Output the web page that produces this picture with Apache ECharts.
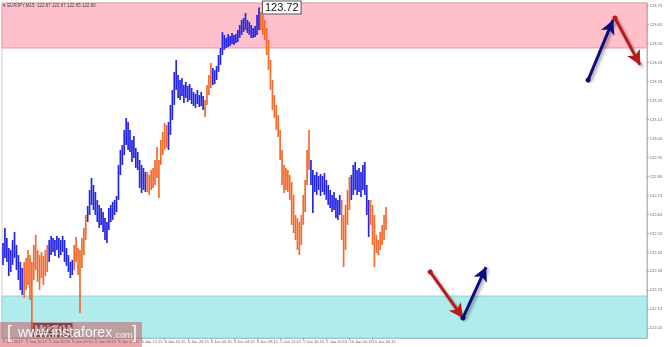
<!DOCTYPE html>
<html>
<head>
<meta charset="utf-8">
<script src="https://cdn.jsdelivr.net/npm/echarts@6/dist/echarts.min.js"></script>
<style>
html,body{margin:0;padding:0;background:#fff;}
#chart{width:665px;height:347px;}
</style>
</head>
<body>
<div id="chart"></div>
<script>
// ---- data ----
const tickLabels = ["5 Jan 2017","5 Jan 16:15","5 Jan 20:15","6 Jan 00:15","6 Jan 04:15","6 Jan 08:15","6 Jan 12:15","6 Jan 16:15","6 Jan 20:15","9 Jan 00:15","9 Jan 04:15","9 Jan 08:15","9 Jan 12:15","9 Jan 16:15","9 Jan 20:15","10 Jan 00:15","10 Jan 04:15"];
const priceTicks = [122.03,122.13,122.23,122.33,122.43,122.53,122.63,122.73,122.83,122.93,123.03,123.13,123.23,123.33,123.43,123.53,123.63,123.73];
const highs = [
122.480,122.559,122.506,122.453,122.443,122.495,122.538,122.469,122.416,122.380,122.348,
122.380,122.401,122.443,122.416,122.380,122.469,122.522,122.443,122.416,122.432,122.411,122.443,122.469,
122.495,122.517,122.506,122.495,122.517,122.506,122.495,122.517,122.495,122.453,122.416,122.380,122.390,
122.469,122.511,122.453,122.443,122.506,122.559,122.627,
122.675,122.759,122.822,122.785,122.748,122.706,122.680,122.664,122.643,122.611,122.590,122.664,122.680,122.696,122.706,122.727,122.891,122.970,122.996,123.075,123.138,123.117,123.075,123.022,123.043,122.980,122.959,122.917,122.891,122.875,122.854,
122.854,122.838,122.864,122.875,122.917,122.985,122.917,123.022,123.064,123.112,123.101,
123.117,123.207,123.286,123.381,123.444,123.365,123.338,123.349,123.312,123.328,123.307,123.317,123.296,123.275,123.265,123.286,123.259,123.275,123.254,
123.233,123.312,123.365,123.428,
123.402,123.391,123.412,123.470,123.507,123.591,123.576,123.560,123.581,123.570,123.586,123.576,123.581,123.602,123.628,123.655,123.665,123.691,123.655,123.644,123.628,123.612,123.623,123.681,123.720,
123.697,123.681,123.655,123.612,123.549,123.444,123.338,123.259,123.207,123.154,123.075,122.970,122.891,122.875,122.864,122.838,122.801,122.733,122.627,122.611,122.590,122.627,122.733,122.812,122.970,123.075,
122.917,122.864,122.838,122.854,122.833,122.843,122.833,122.848,122.812,122.785,122.759,122.733,122.748,122.717,122.706,122.733,
122.706,122.627,122.680,122.759,122.827,
122.838,122.891,122.906,122.864,122.875,122.854,122.891,122.906,122.785,122.706,
122.706,122.680,122.627,122.522,122.495,122.538,122.575,122.627,122.669
];
const lows = [
122.364,122.401,122.380,122.306,122.327,122.364,122.401,122.337,122.285,122.232,122.206,
122.190,122.232,122.258,122.179,122.010,122.285,122.337,122.274,122.232,122.295,122.258,122.306,122.327,
122.380,122.416,122.432,122.411,122.443,122.401,122.416,122.432,122.380,122.359,122.327,122.295,122.311,
122.337,122.380,122.311,122.111,122.348,122.416,122.495,
122.590,122.627,122.680,122.653,122.627,122.590,122.559,122.575,122.538,122.495,122.480,122.548,122.590,122.601,122.627,122.643,122.706,122.838,122.891,122.943,122.996,122.970,122.959,122.906,122.927,122.875,122.864,122.769,122.743,122.759,122.748,
122.748,122.733,122.759,122.769,122.785,122.822,122.717,122.891,122.943,122.970,122.980,
122.970,123.049,123.128,123.207,123.286,123.244,123.233,123.254,123.217,123.244,123.223,123.233,123.212,123.201,123.191,123.212,123.196,123.201,123.180,
123.144,123.207,123.259,123.296,
123.312,123.317,123.338,123.381,123.418,123.470,123.497,123.507,123.512,123.518,123.528,123.523,123.533,123.539,123.560,123.576,123.591,123.602,123.586,123.576,123.560,123.560,123.565,123.576,123.602,
123.602,123.576,123.549,123.470,123.391,123.286,123.180,123.138,123.075,123.038,122.917,122.785,122.743,122.759,122.748,122.706,122.575,122.532,122.495,122.443,122.416,122.469,122.575,122.643,122.785,122.864,
122.785,122.638,122.748,122.733,122.759,122.727,122.748,122.733,122.706,122.680,122.664,122.643,122.653,122.611,122.601,122.627,
122.495,122.353,122.443,122.575,122.653,
122.706,122.733,122.759,122.733,122.748,122.722,122.759,122.733,122.627,122.511,
122.575,122.469,122.353,122.427,122.416,122.443,122.469,122.495,122.548
];
const trendRuns = [["up",11],["down",13],["up",13],["down",7],["up",31],["down",11],["up",19],["down",4],["up",25],["down",26],["up",16],["down",5],["up",10],["down",9]];
const lastPrice = 122.66;
const highMark = {index:133, price:123.72};
const lowMark = {index:15, price:122.01};
const sellZone = [123.507, 123.744];
const buyZone = [121.979, 122.200];
// forecast arrows: [fromIndex, fromPrice, toIndex, toPrice, kind]
const forecastArrows = [
  [304,123.338,317,123.655,"up"],
  [318,123.665,331,123.418,"down"],
  [222,122.327,239,122.085,"down"],
  [239,122.085,251,122.353,"up"]
];
const slotCount = 335;
const labelEvery = 12;
const headerText = "\u25BE EURJPY,M15  122.67 122.67 122.65 122.66";

// ---- build ----
const BLUE = "#2626e2", ORANGE = "#f36a2f";
const trendFlags = [];
trendRuns.forEach(([k,n]) => { for (let j=0;j<n;j++) trendFlags.push(k==="up"?1:0); });
const labelSet = new Set(tickLabels);
const categories = [];
for (let i=0;i<slotCount;i++){
  const k = i/labelEvery;
  categories.push(i%labelEvery===0 && k<tickLabels.length ? tickLabels[k] : "s"+i);
}
const barData = highs.map((h,i)=>[i,h,lows[i],trendFlags[i]]);

const chart = echarts.init(document.getElementById('chart'), null, {renderer:'canvas'});
const arrowSeries = forecastArrows.map((a)=>{
  const col = a[4]==='up' ? '#0c0c7a' : '#bb1a1a';
  return {
    type:'line', data:[], z:5, silent:true, color:col,
    markLine:{
      silent:true, animation:false,
      label:{show:false},
      itemStyle:{color:col},
      lineStyle:{color:col,width:3,type:'solid',shadowColor:'rgba(0,0,0,0.35)',shadowBlur:3,shadowOffsetX:2,shadowOffsetY:2},
      data:[[
        {coord:[a[0],a[1]],symbol:'circle',symbolSize:5},
        {coord:[a[2],a[3]],symbol:'arrow',symbolSize:[11,14]}
      ]]
    }
  };
});
const option = {
  animation:false,
  grid:{left:0,right:15,top:3,bottom:9,show:true,borderColor:'#cfcfcf',borderWidth:1,backgroundColor:'transparent'},
  xAxis:{
    type:'category', data:categories, boundaryGap:true,
    axisLine:{show:true,lineStyle:{color:'#b8b8b8',width:1}},
    axisTick:{show:true,length:2,alignWithLabel:true,interval:(i,v)=>labelSet.has(v),lineStyle:{color:'#999'}},
    axisLabel:{show:true,interval:(i,v)=>labelSet.has(v),formatter:(v)=>labelSet.has(v)?v:'',align:'left',fontSize:4,color:'#666',margin:2,fontFamily:'Liberation Sans'},
    splitLine:{show:false}
  },
  yAxis:{
    type:'value', position:'right', min:buyZone[0], max:sellZone[1], scale:true,
    axisLine:{show:true,lineStyle:{color:'#b8b8b8',width:1}},
    axisTick:{show:true,length:2,customValues:priceTicks,lineStyle:{color:'#999'}},
    axisLabel:{show:true,customValues:priceTicks,formatter:(v)=>v.toFixed(2),fontSize:4,color:'#666',margin:3,fontFamily:'Liberation Sans'},
    splitLine:{show:false}
  },
  series:[
    {
      type:'line', data:[], z:1, silent:true,
      markArea:{silent:true,data:[
        [{yAxis:sellZone[0],itemStyle:{color:'#ffc0cb',borderColor:'#e59aa5',borderWidth:1}},{yAxis:sellZone[1]}],
        [{yAxis:buyZone[0],itemStyle:{color:'#b0ecec',borderColor:'#8fd3d6',borderWidth:1}},{yAxis:buyZone[1]}]
      ]}
    },
    {
      type:'custom', z:2, data:barData, encode:{x:0,y:[1,2]},
      renderItem:(params,api)=>{
        const i = api.value(0);
        const t = api.coord([i, api.value(1)]);
        const b = api.coord([i, api.value(2)]);
        return {type:'line', shape:{x1:t[0],y1:t[1],x2:b[0],y2:b[1]},
          style:{stroke: api.value(3)===1?BLUE:ORANGE, lineWidth:1.7}};
      },
      markPoint:{
        symbol:'circle', symbolSize:0, silent:true,
        data:[
          {coord:[highMark.index,highMark.price],value:highMark.price.toFixed(2),
           label:{show:true,position:'right',distance:4,formatter:'{c}',fontSize:11,color:'#111',fontFamily:'Liberation Sans',
             backgroundColor:'#fff',borderColor:'#555',borderWidth:1,padding:[1,2,0,2]}},
          {coord:[lowMark.index,lowMark.price],value:lowMark.price.toFixed(2),
           label:{show:true,position:'right',distance:2,offset:[0,-2],formatter:'{c}',fontSize:11,color:'#111',fontFamily:'Liberation Sans',
             backgroundColor:'rgba(255,255,255,0.0)',borderColor:'#555',borderWidth:1,padding:[1,2,0,2]}}
        ]
      },
      markLine:{
        silent:true, symbol:'none',
        lineStyle:{opacity:0},
        data:[{yAxis:lastPrice,label:{show:true,position:'end',distance:1,formatter:lastPrice.toFixed(2),fontSize:4,color:'#fff',backgroundColor:'#4a4a4a',padding:[1,2]}}]
      }
    }
  ].concat(arrowSeries),
  graphic:[
    {type:'text',left:3,top:3,z:50,style:{text:headerText,fontSize:4.5,fill:'#444',fontFamily:'Liberation Sans'}},
    {type:'rect',left:0,top:322,z:60,shape:{width:142,height:25},style:{fill:'rgba(200,50,60,0.42)'}},
    {type:'text',left:7,top:324,z:61,style:{text:'[',fontSize:18,fill:'rgba(255,255,255,0.9)',fontFamily:'Liberation Sans'}},
    {type:'text',left:18,top:326,z:61,style:{text:'www.instaforex',fontSize:14,fill:'rgba(255,255,255,0.9)',fontFamily:'Liberation Sans'}},
    {type:'text',left:113,top:331,z:61,style:{text:'.com',fontSize:9,fill:'rgba(255,255,255,0.9)',fontFamily:'Liberation Sans'}},
    {type:'text',left:132,top:324,z:61,style:{text:']',fontSize:18,fill:'rgba(255,255,255,0.9)',fontFamily:'Liberation Sans'}}
  ]
};
chart.setOption(option);
</script>
</body>
</html>
